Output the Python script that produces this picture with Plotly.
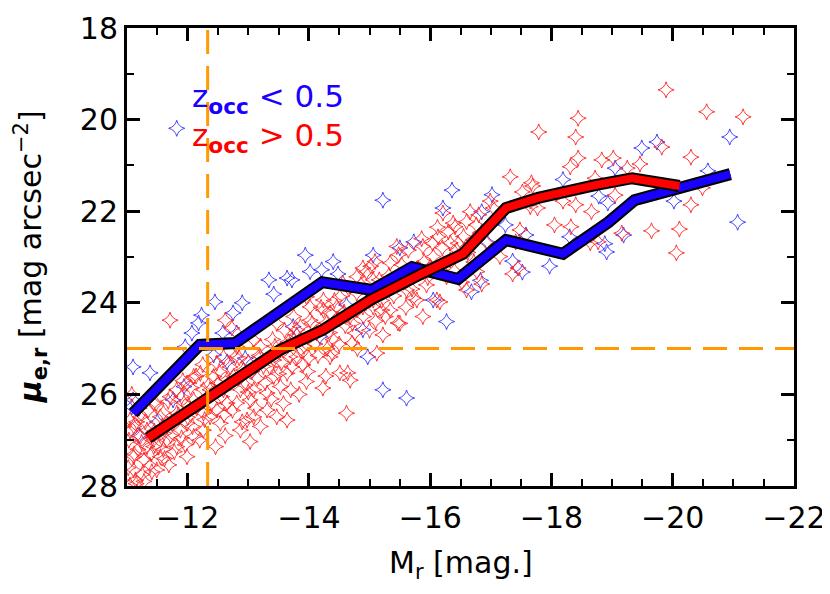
import plotly.graph_objects as go

# ---- data ----
blue_M = [-11.82, -15.22, -16.36, -16.21, -16.85, -13.94, -13.34, -13.64, -13.42, -14.02,
          -14.40, -14.21, -14.48, -15.06, -15.50, -15.73, -12.45, -12.90, -12.23, -12.18,
          -12.75, -12.58, -12.81, -12.07, -11.96, -11.38, -11.76, -11.10, -11.10, -11.08,
          -11.94, -12.43, -12.65, -12.95, -13.74, -14.18, -14.89, -14.97, -15.22, -15.61,
          -16.27, -16.05, -16.68, -14.62, -13.72, -20.94, -21.07, -20.58, -20.02, -19.74,
          -19.49, -19.05, -18.19, -18.78, -18.93, -19.19, -18.91, -18.88, -18.30, -17.97,
          -17.52, -17.36, -17.58, -17.24, -17.02, -16.94, -16.83, -11.20, -11.50]
blue_mu = [20.19, 21.76, 21.54, 21.93, 22.01, 22.96, 23.50, 23.46, 23.81, 23.32,
           23.10, 23.28, 23.37, 22.96, 22.80, 22.67, 23.98, 24.00, 24.27, 24.44,
           24.22, 24.66, 24.66, 24.66, 24.96, 25.53, 26.12, 26.12, 25.40, 26.27,
           25.83, 25.14, 25.29, 25.21, 24.52, 24.74, 24.59, 25.18, 25.90, 26.08,
           24.41, 23.94, 23.76, 24.05, 23.50, 20.38, 22.24, 21.12, 21.78, 20.49,
           20.62, 21.06, 21.31, 21.67, 21.82, 22.52, 22.89, 22.71, 22.56, 23.20,
           23.33, 23.09, 22.52, 22.30, 21.64, 22.67, 23.51, 26.90, 26.60]

red_M = [
    # bright / outer part
    -19.89, -20.56, -21.16, -18.44, -17.79, -18.40, -18.44, -18.31, -18.83, -19.02,
    -19.46, -19.82, -20.30, -19.25, -17.32, -17.52, -17.69, -17.77, -18.40, -18.66,
    -19.05, -18.72, -18.19, -18.05, -18.32, -18.77, -19.16, -19.65, -20.11, -20.06,
    -20.30, -20.49, -16.99, -16.80, -16.41, -16.21, -17.41, -17.36, -16.85, -16.72,
    -16.16, -17.67, -17.65, -18.64, -17.04, -17.48, -17.15, -17.45,
    # middle band
    -16.38, -16.60, -16.13, -16.33, -15.88, -15.45, -15.53, -15.09, -14.89, -15.34,
    -15.94, -16.27, -16.60, -16.77, -16.11, -15.78, -15.61, -15.28, -15.06, -15.34,
    -15.88, -15.47, -15.22, -14.76, -14.71, -15.12, -14.38, -14.64, -14.51, -14.23,
    -13.96, -13.80, -13.90, -14.35, -14.02, -14.79, -14.56, -14.95, -14.29, -14.68,
    -14.89, -14.13, -13.80, -16.66, -16.85, -16.93, -14.51, -15.06, -15.50, -15.83,
    -16.05, -16.44, -16.71, -14.79, -14.24, -14.02, -14.24, -14.46, -15.06, -15.17,
    -15.67, -16.00, -16.33, -14.62, -14.68, -15.50, -15.20, -14.35, -13.96,
    -14.10, -14.40, -14.60, -14.90, -15.20, -15.40, -15.70, -15.90, -16.20, -16.40,
    -16.55, -14.00, -14.30, -15.00, -15.60,
    # faint dense part
    -11.71, -12.62, -12.73, -12.59, -12.79, -13.64, -13.03, -12.46, -11.99, -11.69,
    -11.41, -11.14, -11.05, -13.31, -13.09, -12.87, -13.42, -13.25, -13.09, -12.65,
    -12.37, -12.10, -11.82, -11.55, -11.33, -11.22, -11.11, -11.55, -11.82, -12.10,
    -12.37, -12.65, -12.92, -13.20, -13.53, -13.75, -13.86, -13.75, -13.47, -13.09,
    -12.81, -12.48, -12.21, -11.99, -11.71, -11.44, -11.22, -11.05, -12.10, -12.43,
    -12.76, -12.87, -12.59, -11.99, -12.26, -12.54, -11.61, -11.33, -11.11, -11.28,
    -11.49, -11.11, -12.81, -13.03, -13.31, -13.53, -13.64, -13.42, -13.69, -13.86,
    -13.20, -13.47, -12.98, -12.48, -12.26, -11.88, -11.66, -11.44, -11.94, -12.26,
    -11.82,
    -11.03, -11.05, -11.18, -11.25, -11.40, -11.60, -11.75, -11.90, -12.00, -12.15,
    -12.30, -12.45, -12.60, -12.70, -12.95, -13.15, -13.35, -13.55, -13.70, -11.15,
    -11.30, -11.45, -11.60, -11.90, -12.05, -12.25, -12.50, -13.00, -13.20, -13.40,
    -13.60, -11.02, -11.20,
    -11.08, -11.12, -11.16, -11.24, -11.28, -11.35, -11.38, -11.42, -11.48, -11.52,
    -11.58, -11.62, -11.68, -11.72, -11.78, -11.85, -11.92, -11.96, -12.02, -12.08,
    -12.14, -12.20, -12.28, -12.34, -12.40, -12.52, -12.56, -12.62, -12.68, -12.74,
    -12.85, -12.90, -13.00, -13.06, -13.12, -13.18, -13.28, -13.38, -13.44, -13.50,
    -13.58, -13.66, -13.72, -13.80, -13.84, -13.92, -13.98, -14.05, -14.15, -14.20,
    -14.28, -14.34, -14.42, -14.50, -14.58, -14.66, -14.72, -14.80, -14.86, -14.94,
    -15.02, -15.10, -15.16, -15.26, -15.32, -15.40, -15.48, -15.56, -15.64, -15.72,
    -15.80, -15.86, -15.96, -16.04, -16.12, -16.22, -16.30, -16.46, -16.52, -16.62,
    -16.76,
]
red_mu = [
    19.35, 19.83, 19.94, 19.97, 20.27, 20.38, 20.84, 21.03, 20.88, 20.84,
    20.97, 20.60, 20.82, 21.06, 21.25, 21.58, 21.45, 21.93, 21.86, 22.01,
    21.65, 21.28, 21.78, 22.30, 22.34, 22.67, 22.48, 22.43, 22.39, 22.91,
    21.86, 21.49, 21.78, 22.08, 22.34, 22.04, 22.67, 23.37, 23.59, 23.11,
    23.98, 21.38, 21.90, 22.69, 21.93, 22.41, 22.99, 23.24,
    22.26, 22.23, 22.56, 22.69, 22.77, 22.77, 23.17, 23.10, 23.24, 23.13,
    23.61, 23.43, 23.72, 23.32, 23.94, 23.94, 23.72, 23.72, 23.94, 24.16,
    24.30, 24.44, 24.70, 24.66, 24.88, 25.10, 25.10, 25.53, 25.53, 25.86,
    25.72, 25.18, 25.36, 24.22, 24.09, 23.43, 23.57, 23.32, 24.44, 24.30,
    24.09, 24.66, 24.59, 22.01, 22.45, 22.69, 23.87, 23.50, 23.43, 23.28,
    22.99, 22.85, 22.63, 23.79, 23.94, 24.38, 24.16, 24.09, 24.09, 23.72,
    23.43, 23.21, 23.07, 26.41, 25.69, 24.45, 24.16, 25.18, 23.87,
    24.90, 24.80, 24.50, 24.30, 23.95, 23.60, 23.70, 23.10, 22.80, 23.30,
    22.55, 25.20, 25.00, 24.60, 24.10,
    24.38, 24.38, 24.55, 25.18, 25.18, 26.56, 27.03, 27.14, 27.36, 27.54,
    27.69, 27.87, 27.98, 26.34, 26.49, 26.78, 25.61, 25.39, 25.90, 26.19,
    26.49, 26.92, 27.14, 27.36, 27.14, 26.92, 26.70, 26.49, 26.41, 26.12,
    25.90, 25.68, 25.47, 25.18, 25.03, 24.81, 24.52, 24.30, 24.45, 24.81,
    24.96, 25.32, 25.54, 25.76, 26.05, 26.19, 26.49, 26.56, 25.61, 25.61,
    25.61, 25.90, 25.90, 26.63, 26.78, 26.63, 26.85, 26.78, 27.36, 27.43,
    27.65, 27.65, 26.19, 26.12, 25.97, 25.83, 25.54, 25.25, 25.18, 25.03,
    26.70, 26.49, 26.56, 26.34, 26.41, 26.78, 27.00, 27.14, 26.19, 25.90,
    25.90,
    27.00, 26.80, 27.20, 27.75, 27.30, 27.20, 26.65, 26.95, 26.50, 26.30,
    26.10, 25.95, 26.45, 25.40, 25.80, 25.65, 25.40, 25.30, 25.90, 27.95,
    26.60, 26.80, 26.40, 26.05, 25.85, 25.35, 25.75, 25.30, 24.95, 24.80,
    24.60, 27.60, 26.30,
    26.00, 27.30, 26.60, 27.05, 27.90, 26.35, 27.55, 26.95, 26.20, 27.15,
    26.70, 27.40, 26.15, 26.90, 27.25, 26.45, 25.70, 27.10, 26.25, 26.70,
    25.60, 27.00, 26.55, 25.80, 26.20, 25.50, 26.05, 26.90, 25.75, 26.35,
    25.20, 26.60, 25.95, 25.50, 26.30, 25.15, 25.75, 26.10, 24.95, 25.55,
    26.20, 24.85, 25.40, 24.70, 26.00, 24.95, 25.50, 24.45, 25.15, 24.10,
    25.60, 24.65, 23.95, 24.90, 24.20, 23.70, 24.45, 25.00, 23.60, 24.00,
    23.20, 24.40, 23.50, 24.30, 23.40, 23.85, 22.95, 23.55, 22.85, 23.90,
    23.25, 22.60, 23.45, 22.70, 22.35, 23.15, 22.45, 22.70, 23.55, 22.90,
    22.30,
]

# median relations
blue_line_M = [-11.10, -12.20, -12.78, -14.22, -15.04, -15.70, -16.46, -17.25, -18.19,
               -18.94, -19.37, -20.11, -20.95]
blue_line_mu = [26.41, 24.92, 24.88, 23.55, 23.72, 23.22, 23.48, 22.63, 22.93,
                22.24, 21.76, 21.49, 21.19]
red_line_M = [-11.35, -13.52, -14.23, -15.01, -15.88, -16.54, -17.25, -17.78, -18.72,
              -19.33, -20.11]
red_line_mu = [26.95, 25.03, 24.59, 23.94, 23.35, 22.93, 21.93, 21.71, 21.43,
               21.28, 21.45]

# limits shown as dashed lines
M_limit = -12.33
mu_limit = 25.0

FONT = "DejaVu Sans"

fig = go.Figure()

fig.add_trace(go.Scatter(x=blue_M, y=blue_mu, mode="markers", name="z_occ < 0.5",
                         marker=dict(symbol="star-diamond-open", size=11.5,
                                     color="#3030ff", line=dict(width=0.9, color="#3030ff"))))
fig.add_trace(go.Scatter(x=red_M, y=red_mu, mode="markers", name="z_occ > 0.5",
                         marker=dict(symbol="star-diamond-open", size=11.5,
                                     color="#ff2020", line=dict(width=0.9, color="#ff2020"))))

for lx, ly, col in [(blue_line_M, blue_line_mu, "#1a00ff"), (red_line_M, red_line_mu, "#ff0000")]:
    fig.add_trace(go.Scatter(x=lx, y=ly, mode="lines", line=dict(color="black", width=12),
                             hoverinfo="skip"))
    fig.add_trace(go.Scatter(x=lx, y=ly, mode="lines", line=dict(color=col, width=8)))

fig.add_shape(type="line", xref="x", yref="paper", x0=M_limit, x1=M_limit, y0=0, y1=1,
              line=dict(color="#ff9a00", width=3, dash="24px,12px"), layer="above")
fig.add_shape(type="line", xref="paper", yref="y", x0=0, x1=1, y0=mu_limit, y1=mu_limit,
              line=dict(color="#ff9a00", width=3, dash="24px,12px"), layer="above")

fig.add_annotation(x=-12.04, y=19.55, xref="x", yref="y", xanchor="left", yanchor="middle",
                   showarrow=False, text="z<sub><b>occ</b></sub> &lt; 0.5",
                   font=dict(family=FONT, size=31, color="#1a00ff"))
fig.add_annotation(x=-12.04, y=20.38, xref="x", yref="y", xanchor="left", yanchor="middle",
                   showarrow=False, text="z<sub><b>occ</b></sub> &gt; 0.5",
                   font=dict(family=FONT, size=31, color="#ff0000"))

# axis titles placed as annotations relative to the plot box
fig.add_annotation(x=0.5, y=-0.172, xref="paper", yref="paper", xanchor="center", yanchor="middle",
                   showarrow=False, text="M<sub>r</sub> [mag.]",
                   font=dict(family=FONT, size=30, color="black"))
fig.add_annotation(x=-0.145, y=0.5, xref="paper", yref="paper", xanchor="center", yanchor="middle",
                   showarrow=False, textangle=-90,
                   text="<b><i>μ</i></b><sub><b>e,r</b></sub> [mag arcsec<sup>−2</sup>]",
                   font=dict(family=FONT, size=30, color="black"))

axis_common = dict(showline=True, linecolor="black", linewidth=3, mirror="ticks",
                   ticks="inside", tickcolor="black", tickwidth=2.5, ticklen=13,
                   showgrid=False, zeroline=False, automargin=False,
                   tickfont=dict(family=FONT, size=30, color="black"))

fig.update_xaxes(range=[-11, -22], dtick=2, tick0=0, ticklabelstandoff=3,
                 minor=dict(ticks="inside", dtick=0.5, ticklen=7, tickwidth=2, tickcolor="black"),
                 **axis_common)
fig.update_yaxes(range=[28, 18], dtick=2, tick0=0,
                 minor=dict(ticks="inside", dtick=1, ticklen=7, tickwidth=2, tickcolor="black"),
                 **axis_common)

# the page body adds an 8 px offset; the figure is sized so the plot box lands on the reference box
fig.update_layout(width=822, height=586, showlegend=False, template="none",
                  margin=dict(l=119, r=36, t=20, b=108),
                  plot_bgcolor="white", paper_bgcolor="white")

fig.write_html("out.html")
